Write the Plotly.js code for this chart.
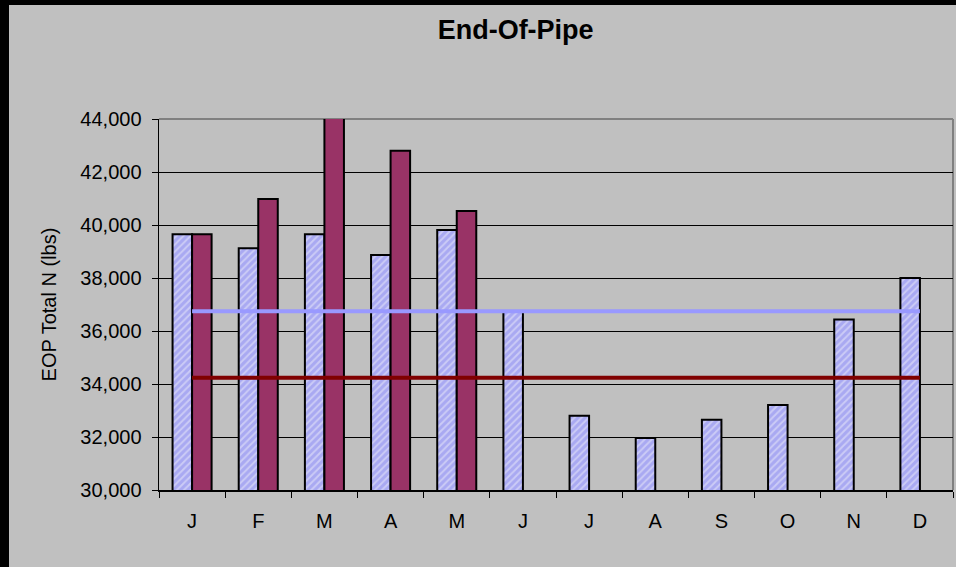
<!DOCTYPE html>
<html>
<head>
<meta charset="utf-8">
<script src="https://cdn.plot.ly/plotly-3.0.1.min.js"></script>
<style>
html,body{margin:0;padding:0;background:#000;width:956px;height:567px;overflow:hidden;}
#chart{position:absolute;left:9px;top:5px;width:947px;height:562px;}
</style>
</head>
<body>
<div id="chart"></div>
<script>
const months = ['J','F','M','A','M','J','J','A','S','O','N','D'];
const monthIds = ['Jan','Feb','Mar','Apr','May','Jun','Jul','Aug','Sep','Oct','Nov','Dec'];
const seriesA = [39650, 39120, 39650, 38870, 39810, 36720, 32800, 31960, 32650, 33210, 36430, 38000];
const seriesB = [39650, 40980, 44150, 42800, 40530, null, null, null, null, null, null, null];
const lineA = [36750, 36750, 36750, 36750, 36750, 36750, 36750, 36750, 36750, 36750, 36750, 36750];
const lineB = [34240, 34240, 34240, 34240, 34240, 34240, 34240, 34240, 34240, 34240, 34240, 34240];
const yTicks = [30000, 32000, 34000, 36000, 38000, 40000, 42000, 44000];
const yTickText = ['30,000','32,000','34,000','36,000','38,000','40,000','42,000','44,000'];

const font = 'Liberation Sans, Arial, sans-serif';

const data = [
  {
    type: 'bar', x: monthIds, y: seriesA, name: 'A',
    marker: {
      color: '#A9A9F2',
      line: {color: '#000', width: 2},
      pattern: {shape: '/', fgcolor: '#CBCBF6', bgcolor: '#A9A9F2', size: 5, solidity: 0.4}
    },
    cliponaxis: false, hoverinfo: 'skip'
  },
  {
    type: 'bar', x: monthIds, y: seriesB, name: 'B',
    marker: {color: '#993366', line: {color: '#000', width: 2}},
    cliponaxis: false, hoverinfo: 'skip'
  },
  {
    type: 'scatter', mode: 'lines', x: monthIds, y: lineA,
    line: {color: '#9999FF', width: 4}, hoverinfo: 'skip'
  },
  {
    type: 'scatter', mode: 'lines', x: monthIds, y: lineB,
    line: {color: '#800000', width: 4}, hoverinfo: 'skip'
  }
];

const layout = {
  width: 947, height: 562,
  paper_bgcolor: '#C0C0C0', plot_bgcolor: '#C0C0C0',
  margin: {l: 150, r: 3, t: 114, b: 77},
  showlegend: false,
  barmode: 'group', bargap: 0.41, bargroupgap: 0,
  font: {family: font, color: '#000', size: 20},
  title: {
    text: '<b>End-Of-Pipe</b>',
    font: {family: font, size: 27, color: '#000'},
    xref: 'container', yref: 'container',
    x: 0.535, y: 0.9555, xanchor: 'center', yanchor: 'middle'
  },
  xaxis: {
    type: 'category',
    tickvals: monthIds, ticktext: months,
    tickson: 'boundaries',
    ticks: 'outside', ticklen: 6, tickwidth: 1, tickcolor: '#000',
    showline: true, linecolor: '#000', linewidth: 1.5,
    showgrid: false, zeroline: false,
    tickfont: {family: font, size: 20, color: '#000'},
    ticklabelstandoff: 12,
    fixedrange: true
  },
  yaxis: {
    range: [30000, 44000],
    tickvals: yTicks, ticktext: yTickText,
    ticks: 'outside', ticklen: 6, tickwidth: 1, tickcolor: '#000',
    showline: true, linecolor: '#000', linewidth: 1.5,
    showgrid: true, gridcolor: '#000', gridwidth: 1,
    zeroline: false,
    tickfont: {family: font, size: 20, color: '#000'},
    ticklabelstandoff: 6,
    title: {text: 'EOP Total N (lbs)', font: {family: font, size: 20, color: '#000'}, standoff: 18},
    fixedrange: true
  },
  shapes: [
    {type: 'line', xref: 'paper', yref: 'paper', x0: 0, x1: 1, y0: 1, y1: 1,
     line: {color: '#808080', width: 2}, layer: 'between'},
    {type: 'line', xref: 'paper', yref: 'paper', x0: 1, x1: 1, y0: 0, y1: 1,
     line: {color: '#808080', width: 2}, layer: 'between'}
  ]
};

Plotly.newPlot('chart', data, layout, {displayModeBar: false, staticPlot: true});
</script>
</body>
</html>
